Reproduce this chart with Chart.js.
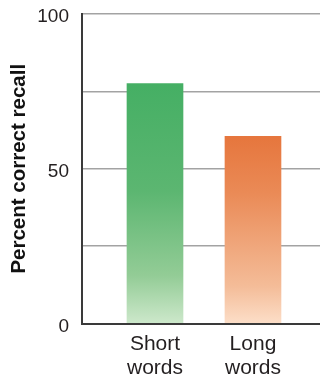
<!DOCTYPE html>
<html>
<head>
<meta charset="utf-8">
<script src="https://cdn.jsdelivr.net/npm/chart.js@4"></script>
<style>
  html, body { margin: 0; padding: 0; background: #ffffff; }
  #wrap { width: 320px; height: 381px; }
</style>
</head>
<body>
<div id="wrap"><canvas id="chart" width="320" height="381"></canvas></div>
<script>
// Recall by word length
const categories = [['Short', 'words'], ['Long', 'words']];
const recallPercent = [77.5, 60.5];
const yTickValues = [0, 25, 50, 75, 100];
const yTickLabels = ['0', '', '50', '', '100'];

// Bar shading stops: strong colour at the top fading to a pale tint at the base
const shadeStops = [
  [[0, '#45af64'], [0.45, '#5cb671'], [0.8, '#93cc96'], [1, '#cde8cb']],
  [[0, '#e6763d'], [0.3, '#ea8a56'], [0.8, '#f4bc98'], [1, '#fcdec8']]
];

const FONT = '"Liberation Sans", Arial, Helvetica, sans-serif';

function barGradient(ctx) {
  const chart = ctx.chart;
  const yScale = chart.scales.y;
  const i = ctx.dataIndex || 0;
  if (!yScale || !chart.chartArea) return shadeStops[i][0][1];
  const top = yScale.getPixelForValue(recallPercent[i]);
  const bottom = yScale.getPixelForValue(0);
  const g = chart.ctx.createLinearGradient(0, top, 0, bottom);
  shadeStops[i].forEach(([p, c]) => g.addColorStop(p, c));
  return g;
}

new Chart(document.getElementById('chart'), {
  type: 'bar',
  data: {
    datasets: [{
      data: recallPercent.map((v, i) => ({ x: i + 1, y: v })),
      backgroundColor: barGradient,
      borderWidth: 0,
      barThickness: 56
    }]
  },
  options: {
    responsive: false,
    animation: false,
    layout: { padding: { top: 14, right: 0, left: 0, bottom: 0 } },
    plugins: { legend: { display: false }, tooltip: { enabled: false } },
    scales: {
      x: {
        type: 'linear',
        offset: false,
        min: 0.255,
        max: 2.684,
        afterBuildTicks: (s) => { s.ticks = categories.map((_, i) => ({ value: i + 1 })); },
        afterFit: (s) => { s.height = 57.5; },
        grid: { display: false, drawTicks: false },
        border: { display: true, color: '#3a3a3a', width: 2 },
        ticks: {
          autoSkip: false,
          maxRotation: 0,
          padding: 9,
          color: '#231f20',
          font: { family: FONT, size: 21, lineHeight: 1.12 },
          callback: (v) => categories[Math.round(v) - 1]
        }
      },
      y: {
        min: 0,
        max: 100,
        afterBuildTicks: (s) => { s.ticks = yTickValues.map(v => ({ value: v })); },
        afterFit: (s) => { s.width = 82; },
        grid: { color: '#a3a3a3', lineWidth: 1.5, drawTicks: false },
        border: { display: true, color: '#3a3a3a', width: 2 },
        ticks: {
          padding: 13,
          labelOffset: 3,
          color: '#231f20',
          font: { family: FONT, size: 19, lineHeight: 0.1 },
          callback: (v) => yTickLabels[yTickValues.indexOf(v)]
        },
        title: {
          display: true,
          text: 'Percent correct recall',
          color: '#111111',
          padding: { top: 7, bottom: 0 },
          font: { family: FONT, size: 20.5, weight: 'bold' }
        }
      }
    }
  }
});
</script>
</body>
</html>
